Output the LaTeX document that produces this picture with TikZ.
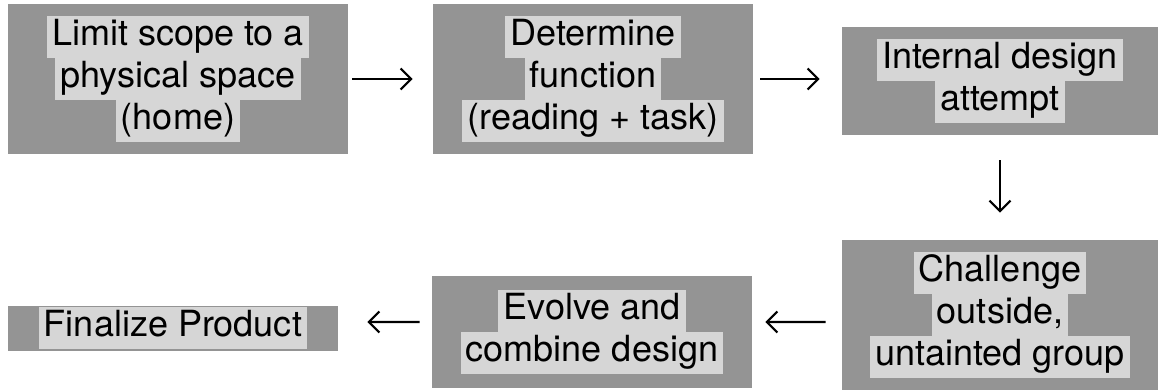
\documentclass[tikz,border=0pt]{standalone}
\usepackage{fontspec}
\setmainfont{TeX Gyre Heros}
\usetikzlibrary{arrows.meta}
\definecolor{boxgray}{gray}{0.58}
\definecolor{boxlight}{gray}{0.84}
\setlength{\fboxsep}{0pt}
\newcommand{\hl}[1]{\colorbox{boxlight}{\hspace{3pt}\strut#1\hspace{3pt}}}

\begin{document}
\begin{tikzpicture}[x=0.02cm,y=-0.02cm,
    stage/.style={fill=boxgray, inner sep=0pt, align=center,
      font=\fontsize{20.5}{24}\selectfont},
    flow/.style={-{Straight Barb[length=6pt,width=12pt]}, line width=1.2pt}]
  \useasboundingbox (0,0) rectangle (1160,390);
  \draw
    (178,79) node[stage, minimum width=6.8cm, minimum height=3cm] (limit)
      {\hl{Limit scope to a}\\\hl{physical space}\\\hl{(home)}}
    (593,79) node[stage, minimum width=6.4cm, minimum height=3cm] (function)
      {\hl{Determine}\\\hl{function}\\\hl{(reading + task)}}
    (1000,81) node[stage, minimum width=6.32cm, minimum height=2.16cm] (internal)
      {\hl{Internal design}\\\hl{attempt}}
    (1000,315) node[stage, minimum width=6.32cm, minimum height=3cm] (challenge)
      {\hl{Challenge}\\\hl{outside,}\\\hl{untainted group}}
    (592,332) node[stage, minimum width=6.4cm, minimum height=2.24cm] (evolve)
      {\hl{Evolve and}\\\hl{combine design}}
    (173,328) node[stage, minimum width=6.6cm, minimum height=0.9cm] (finalize)
      {\hl{Finalize Product}};
  \begin{scope}[flow]
    \draw[shorten <=0.08cm, shorten >=0.4cm] (limit) -- (function);
    \draw[shorten <=0.14cm, shorten >=0.44cm] (function.east) -- (internal.west |- function.east);
    \draw[shorten <=0.5cm, shorten >=0.54cm] (internal) -- (challenge);
    \draw[shorten <=0.32cm, shorten >=0.26cm] ([yshift=-0.14cm]challenge.west) -- ([yshift=0.2cm]evolve.east);
    \draw[shorten <=0.24cm, shorten >=0.58cm] ([yshift=0.2cm]evolve.west) -- ([yshift=0.12cm]finalize.east);
  \end{scope}
\end{tikzpicture}
\end{document}
